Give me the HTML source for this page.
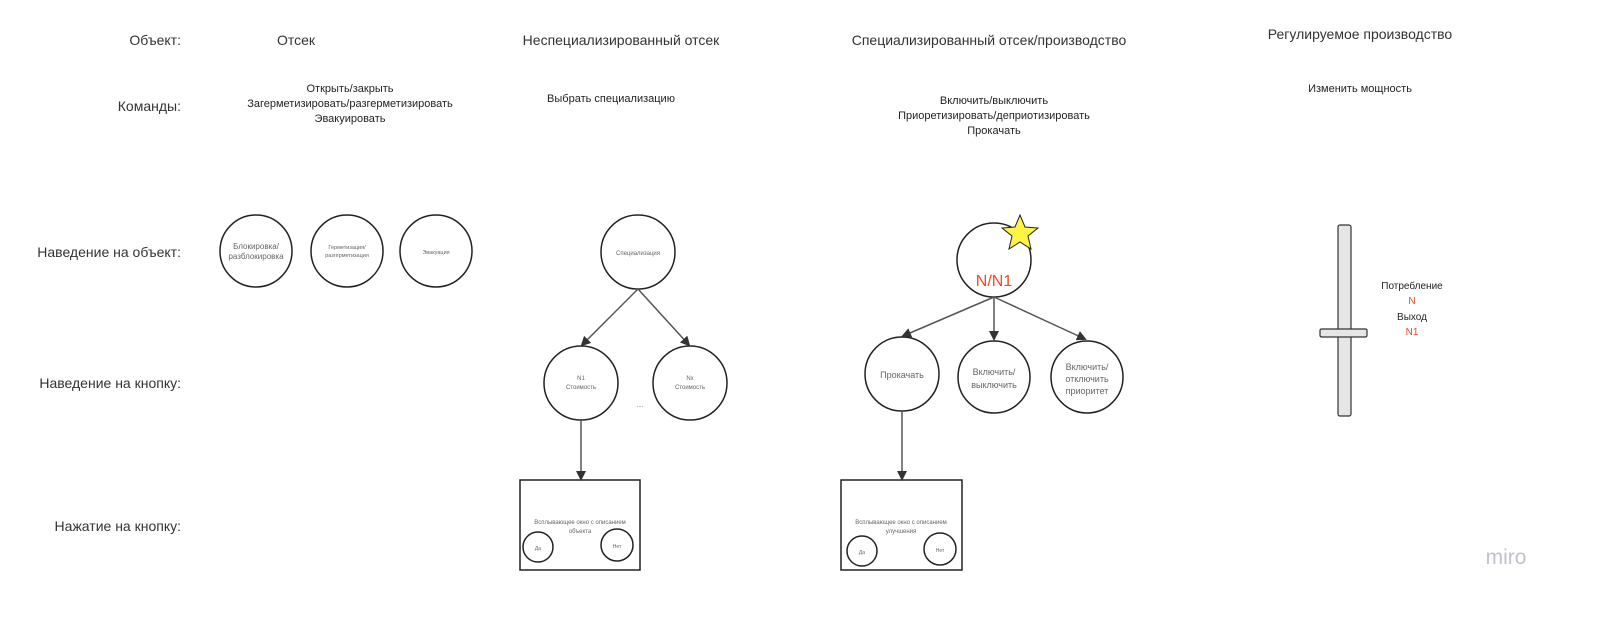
<!DOCTYPE html>
<html><head><meta charset="utf-8"><style>
html,body{margin:0;padding:0;background:#fff;}
svg{display:block;font-family:"Liberation Sans","Noto Sans CJK SC",sans-serif;}
</style></head><body>
<svg width="1616" height="618" viewBox="0 0 1616 618" xmlns="http://www.w3.org/2000/svg">
<defs><marker id="a" markerWidth="10" markerHeight="10" refX="8" refY="5" orient="auto" markerUnits="userSpaceOnUse"><path d="M0,0 L10,5 L0,10 z" fill="#333"/></marker></defs>
<g fill="#333" font-size="14" text-anchor="end">
<text x="181" y="45">Объект:</text>
<text x="181" y="111">Команды:</text>
<text x="181" y="257">Наведение на объект:</text>
<text x="181" y="388">Наведение на кнопку:</text>
<text x="181" y="531">Нажатие на кнопку:</text>
</g>
<g fill="#333" font-size="14" text-anchor="middle">
<text x="296" y="45">Отсек</text>
<text x="621" y="45">Неспециализированный отсек</text>
<text x="989" y="45">Специализированный отсек/производство</text>
<text x="1360" y="39">Регулируемое производство</text>
</g>
<g fill="#222" font-size="11" text-anchor="middle">
<text x="350" y="92">Открыть/закрыть</text>
<text x="350" y="107">Загерметизировать/разгерметизировать</text>
<text x="350" y="122">Эвакуировать</text>
<text x="611" y="102">Выбрать специализацию</text>
<text x="994" y="104">Включить/выключить</text>
<text x="994" y="119">Приоретизировать/деприотизировать</text>
<text x="994" y="134">Прокачать</text>
<text x="1360" y="92">Изменить мощность</text>
</g>
<g fill="none" stroke="#222" stroke-width="1.5">
<circle cx="256" cy="251" r="36"/><circle cx="347" cy="251" r="36"/><circle cx="436" cy="251" r="36"/>
<circle cx="638" cy="252" r="37"/>
<circle cx="581" cy="383" r="37"/><circle cx="690" cy="383" r="37"/>
<rect x="520" y="480" width="120" height="90"/>
<circle cx="538" cy="547" r="15"/><circle cx="617" cy="545" r="16"/>
<circle cx="994" cy="260" r="37"/>
<circle cx="902" cy="374" r="37"/><circle cx="994" cy="377" r="36"/><circle cx="1087" cy="377" r="36"/>
<rect x="841" y="480" width="121" height="90"/>
<circle cx="862" cy="551" r="15"/><circle cx="940" cy="549" r="16"/>
</g>
<g stroke="#555" stroke-width="1.5" fill="none" marker-end="url(#a)">
<line x1="638" y1="289" x2="582" y2="345"/>
<line x1="638" y1="289" x2="689" y2="345"/>
<line x1="581" y1="420" x2="581" y2="479"/>
<line x1="994" y1="297" x2="903" y2="336"/>
<line x1="994" y1="297" x2="994" y2="339"/>
<line x1="994" y1="297" x2="1085" y2="339"/>
<line x1="902" y1="411" x2="902" y2="479"/>
</g>
<polygon points="1020,215 1025,227 1038,228 1028,236 1031,249 1020,242 1009,249 1012,236 1002,228 1015,227" fill="#fef445" stroke="#222" stroke-width="1"/>
<text x="994" y="286" font-size="16" fill="#f24726" text-anchor="middle">N/N1</text>
<g fill="#666" text-anchor="middle">
<text x="256" y="249" font-size="8">Блокировка/</text><text x="256" y="259" font-size="8">разблокировка</text>
<text x="347" y="249" font-size="5.5">Герметизация/</text><text x="347" y="257" font-size="5.5">разгерметизация</text>
<text x="436" y="254" font-size="5.5">Эвакуация</text>
<text x="638" y="255" font-size="6">Специализация</text>
<text x="581" y="380" font-size="6">N1</text><text x="581" y="389" font-size="6">Стоимость</text>
<text x="690" y="380" font-size="6">Nx</text><text x="690" y="389" font-size="6">Стоимость</text>
<text x="640" y="407" font-size="6">....</text>
<text x="580" y="524" font-size="6">Всплывающее окно с описанием</text><text x="580" y="533" font-size="6">объекта</text>
<text x="538" y="550" font-size="5">Да</text><text x="617" y="548" font-size="5">Нет</text>
<text x="902" y="378" font-size="9">Прокачать</text>
<text x="994" y="375" font-size="9">Включить/</text><text x="994" y="388" font-size="9">выключить</text>
<text x="1087" y="370" font-size="9">Включить/</text><text x="1087" y="382" font-size="9">отключить</text><text x="1087" y="394" font-size="9">приоритет</text>
<text x="901" y="524" font-size="6">Всплывающее окно с описанием</text><text x="901" y="533" font-size="6">улучшения</text>
<text x="862" y="554" font-size="5">Да</text><text x="940" y="552" font-size="5">Нет</text>
</g>
<rect x="1338" y="225" width="13" height="191" rx="2" fill="#e6e6e6" stroke="#333" stroke-width="1.2"/>
<rect x="1320" y="329" width="47" height="8" rx="1.5" fill="#e6e6e6" stroke="#333" stroke-width="1.2"/>
<g font-size="10" text-anchor="middle">
<text x="1412" y="289" fill="#222">Потребление</text>
<text x="1412" y="304" fill="#f24726">N</text>
<text x="1412" y="320" fill="#222">Выход</text>
<text x="1412" y="335" fill="#f24726">N1</text>
</g>
<text x="1506" y="564" font-size="21" fill="#c2c2cc" text-anchor="middle">miro</text>
</svg>
</body></html>
